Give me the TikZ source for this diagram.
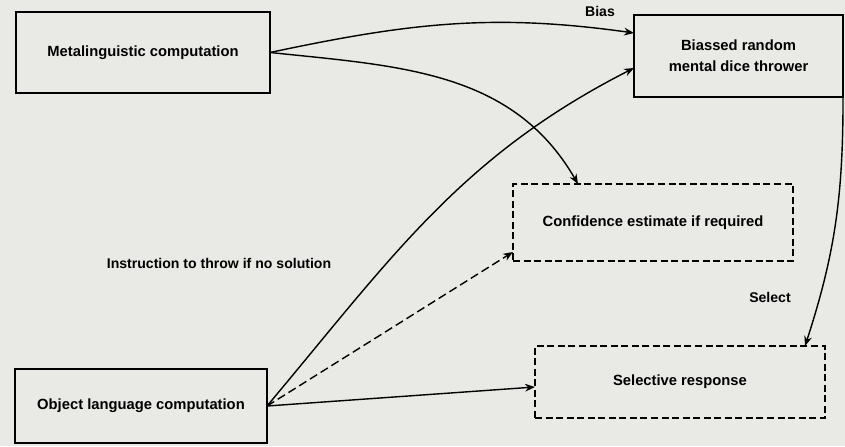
\documentclass[tikz,border=0pt]{standalone}
\usepackage{fontspec}
\setmainfont{Liberation Sans}
\usepackage{tikz}
\usetikzlibrary{positioning,calc,arrows.meta}
\definecolor{PaperGray}{RGB}{233,233,230}

\begin{document}
\begin{tikzpicture}[x=0.025cm,y=-0.025cm]
        % Styles for boxes, arrows and labels
        \tikzstyle{box} = [
            draw=black,
            line width=1.2pt,
            font=\fontsize{10.5}{15}\selectfont\bfseries,
            align=center,
            inner sep=0pt,
            outer sep=0pt
        ]
        \tikzstyle{dbox} = [box, dash pattern=on 5pt off 2.5pt]
        \tikzstyle{flow} = [-{Stealth[length=7pt,width=5.5pt]}, line width=1pt]
        \tikzstyle{lbl} = [font=\fontsize{10}{12}\selectfont\bfseries, inner sep=1pt]

        % Paper background
        \fill[PaperGray] (0,0) rectangle (845,446);

        % Boxes on the left
        \node[box, minimum width=6.35cm, minimum height=2.025cm] at (143,52.5) (meta) {Metalinguistic computation};
        \node[box, minimum width=6.3cm, minimum height=1.85cm] at (141,406) (obj) {Object language computation};

        % Boxes on the right
        \node[box, minimum width=5.225cm, minimum height=2.05cm] at (738.5,56) (dice) {Biassed random\\mental dice thrower};
        \node[dbox, minimum width=7cm, minimum height=1.925cm] at (653,222.5) (conf) {Confidence estimate if required};
        \node[dbox, minimum width=7.25cm, minimum height=1.8cm] at (680,382) (sel) {Selective response};

        % Arrows from the metalinguistic side
        \draw[flow] (meta.east) to[out=12, in=172] ([yshift=0.575cm]dice.west);
        \draw[flow] (meta.east) to[out=-6, in=120] ([xshift=-1.875cm]conf.north);

        % Arrows from the object language side
        \draw[flow] (obj.east) to[out=50, in=207] ([yshift=-0.3cm]dice.west);
        \draw[flow, dash pattern=on 6pt off 3pt] (obj.east) -- ([yshift=0.225cm]conf.south west);
        \draw[flow] (obj.east) -- ([yshift=-0.125cm]sel.west);

        % Selection arrow
        \draw[flow] (dice.south east) to[out=-90, in=72] ([xshift=-0.5cm]sel.north east);

        % Labels
        \node[lbl] at (600,11) (bias) {Bias};
        \node[lbl] at (770,297) (select) {Select};
        \node[lbl] at (219,263) (instr) {Instruction to throw if no solution};
    \end{tikzpicture}
\end{document}
